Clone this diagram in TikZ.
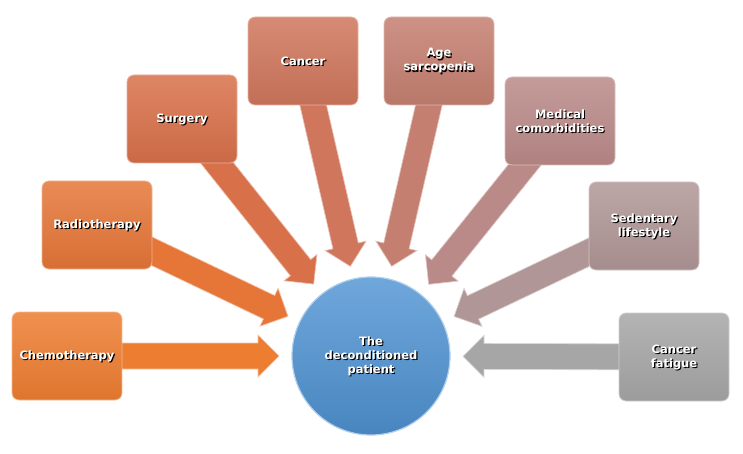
\documentclass[tikz,border=0pt]{standalone}
\usepackage{fontspec}
\setmainfont{DejaVu Sans}
\usetikzlibrary{calc,backgrounds}

\definecolor{cChemo}{RGB}{237,125,49}
\definecolor{cRadio}{RGB}{229,118,56}
\definecolor{cSurgery}{RGB}{216,112,74}
\definecolor{cCancer}{RGB}{207,118,92}
\definecolor{cAge}{RGB}{196,127,112}
\definecolor{cMedical}{RGB}{186,138,136}
\definecolor{cSedentary}{RGB}{176,150,150}
\definecolor{cFatigue}{RGB}{166,166,166}
\definecolor{cPatient}{RGB}{80,148,212}

\tikzset{
  factor/.style={rounded corners=7pt, minimum width=110pt, minimum height=88pt,
    draw=#1!55!white, line width=0.8pt, top color=#1!85!white, bottom color=#1!94!black},
  hub/.style={circle, minimum size=158pt, inner sep=0pt, draw=cPatient!45!white,
    line width=1.2pt, top color=cPatient!82!white, bottom color=cPatient!90!black},
  lbl/.style={text=white, font=\bfseries\fontsize{11.5}{14}\selectfont, align=center},
  lblshadow/.style={lbl, text=black},
  bigarrow/.style={fill=#1, draw=#1!45!white, line width=0.7pt},
}

% block arrow from a box towards the patient
\newcommand{\blockarrow}[3]{%
  \coordinate (tip) at ($(#2.center)!92pt!(#1.center)$);
  \coordinate (hb) at ($(tip)!21pt!(#1.center)$);
  \filldraw[bigarrow=#3]
    ($(#1.center)!13pt!90:(tip)$) --
    ($(hb)!13pt!90:(tip)$) --
    ($(hb)!21pt!90:(tip)$) --
    (tip) --
    ($(hb)!21pt!-90:(tip)$) --
    ($(hb)!13pt!-90:(tip)$) --
    ($(#1.center)!13pt!-90:(tip)$) -- cycle;
}

\begin{document}
\begin{tikzpicture}[x=1pt,y=-1pt]

\useasboundingbox (0,0) rectangle (743,454);

% The patient
\node[hub] (patient) at (371,356) {};
\node[lblshadow] at ($(patient)+(1.2,1.2)$) {The\\deconditioned\\patient};
\node[lbl] at (patient) {The\\deconditioned\\patient};

% Factors
\foreach \name/\x/\y/\col/\txt in {
  chemo/67/356/cChemo/Chemotherapy,
  radio/97/225/cRadio/Radiotherapy,
  surgery/182/119/cSurgery/Surgery,
  cancer/303/61/cCancer/Cancer,
  age/439/61/cAge/{Age\\sarcopenia},
  medical/560/121/cMedical/{Medical\\comorbidities},
  sedentary/644/226/cSedentary/{Sedentary\\lifestyle},
  fatigue/674/357/cFatigue/{Cancer\\fatigue}}
{
  \node[factor=\col] (\name) at (\x,\y) {};
  \node[lblshadow] at ($(\name)+(1.2,1.2)$) {\txt};
  \node[lbl] at (\name) {\txt};
}

% Arrows
\begin{scope}[on background layer]
\foreach \name/\col in {chemo/cChemo, radio/cRadio, surgery/cSurgery,
  cancer/cCancer, age/cAge, medical/cMedical, sedentary/cSedentary,
  fatigue/cFatigue}
{
  \blockarrow{\name}{patient}{\col}
}
\end{scope}

\end{tikzpicture}
\end{document}
